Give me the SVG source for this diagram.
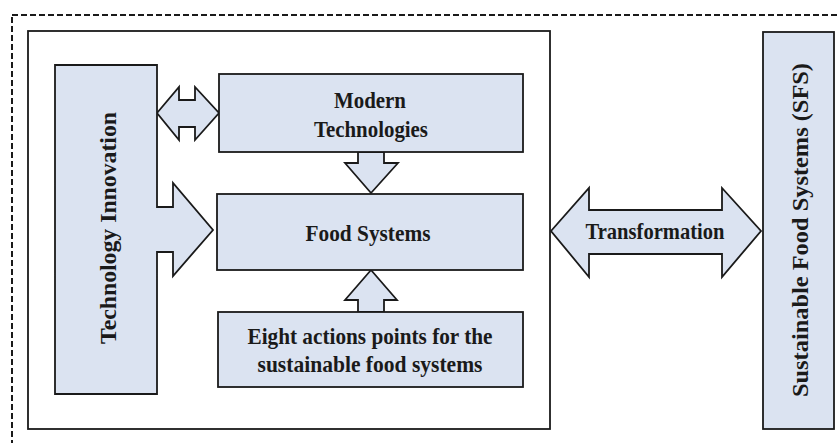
<svg xmlns="http://www.w3.org/2000/svg" width="840" height="443" viewBox="0 0 840 443">
<style>
.bg{fill:#ffffff}
.frame{fill:none;stroke:#1a1a1a;stroke-width:2;stroke-dasharray:6 3}
.inner{fill:none;stroke:#1a1a1a;stroke-width:1.8}
.node{fill:#dbe3f1;stroke:#1a1a1a;stroke-width:1.8;stroke-linejoin:miter}
.arr{fill:#dbe3f1;stroke:#1a1a1a;stroke-width:1.8;stroke-linejoin:miter}
.t{font-family:"Liberation Serif","Times New Roman",serif;font-weight:bold;font-size:24px;fill:#1a1a1a;text-anchor:middle}
</style>
<rect class="bg" x="0" y="0" width="840" height="443"/>
<rect class="frame" x="12" y="15" width="850" height="450"/>
<rect class="inner" x="28" y="31" width="522" height="398"/>

<g id="connectors">
  <polygon class="arr" points="157,113 179,87 179,100 195,100 195,87 219,113 195,140 195,127 179,127 179,140"/>
  <polygon class="arr" points="358,152 384,152 384,163 398,163 371,193 345,163 358,163"/>
  <polygon class="arr" points="371,270 397,300 384,300 384,312 358,312 358,300 345,300"/>
  <polygon class="arr" points="551,231 589,188 589,210 722,210 722,188 761,231 722,277 722,254 589,254 589,277"/>
  <text class="t" x="655" y="239" textLength="139" lengthAdjust="spacingAndGlyphs">Transformation</text>
</g>

<g id="technology-innovation">
  <polygon class="node" points="55,65 157,65 157,207 173,207 173,183 213,230 173,276 173,252 157,252 157,394 55,394"/>
  <text class="t" transform="translate(116,228) rotate(-90)" x="0" y="0" textLength="232" lengthAdjust="spacingAndGlyphs">Technology Innovation</text>
</g>

<g id="modern-technologies">
  <rect class="node" x="219" y="74" width="304" height="78"/>
  <text class="t" x="370" y="108" textLength="72" lengthAdjust="spacingAndGlyphs">Modern</text>
  <text class="t" x="371" y="137" textLength="114" lengthAdjust="spacingAndGlyphs">Technologies</text>
</g>

<g id="food-systems">
  <rect class="node" x="217" y="194" width="306" height="76"/>
  <text class="t" x="368" y="241" textLength="125" lengthAdjust="spacingAndGlyphs">Food Systems</text>
</g>

<g id="eight-actions">
  <rect class="node" x="218" y="312" width="305" height="75"/>
  <text class="t" x="370" y="344" textLength="245" lengthAdjust="spacingAndGlyphs">Eight actions points for the</text>
  <text class="t" x="370" y="372" textLength="225" lengthAdjust="spacingAndGlyphs">sustainable food systems</text>
</g>

<g id="sfs">
  <rect class="node" x="763" y="32" width="71" height="397"/>
  <text class="t" transform="translate(808,230) rotate(-90)" x="0" y="0" textLength="334" lengthAdjust="spacingAndGlyphs">Sustainable Food Systems (SFS)</text>
</g>
</svg>
